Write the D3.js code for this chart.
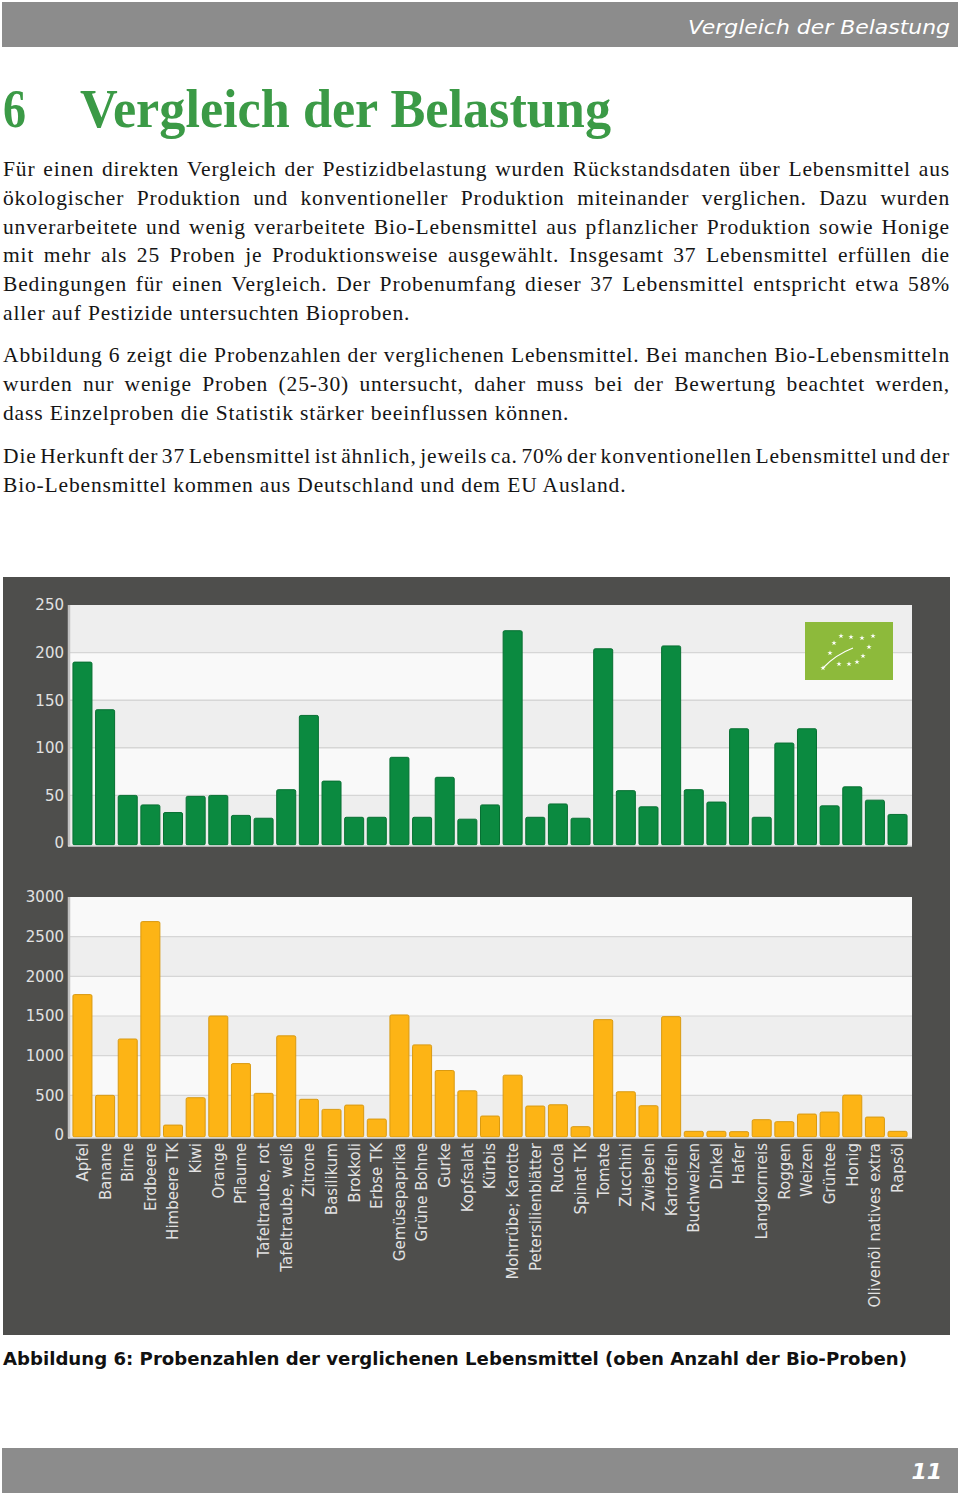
<!DOCTYPE html>
<html><head><meta charset="utf-8">
<script src="https://cdn.jsdelivr.net/npm/d3@7"></script>
<style>html,body{margin:0;padding:0;background:#fff;} svg{display:block;}</style>
</head><body>
<svg id="page" width="960" height="1495"></svg>
<script>
// ---------- data ----------
const categories = ["Apfel","Banane","Birne","Erdbeere","Himbeere TK","Kiwi","Orange","Pflaume","Tafeltraube, rot","Tafeltraube, weiß","Zitrone","Basilikum","Brokkoli","Erbse TK","Gemüsepaprika","Grüne Bohne","Gurke","Kopfsalat","Kürbis","Mohrrübe; Karotte","Petersilienblätter","Rucola","Spinat TK","Tomate","Zucchini","Zwiebeln","Kartoffeln","Buchweizen","Dinkel","Hafer","Langkornreis","Roggen","Weizen","Grüntee","Honig","Olivenöl natives extra","Rapsöl"];
const bioValues = [190,140,50,40,32,49,50,29,26,56,134,65,27,27,90,27,69,25,40,223,27,41,26,204,55,38,207,56,43,120,27,105,120,39,59,45,30];
const konvValues = [1770,500,1210,2690,125,470,1500,900,525,1250,450,323,377,201,1513,1136,813,557,239,754,365,381,105,1454,545,369,1492,46,46,42,193,168,264,289,503,226,46];
const bioTicks = [0,50,100,150,200,250];
const konvTicks = [0,500,1000,1500,2000,2500,3000];

const headerText = "Vergleich der Belastung";
const titleNumber = "6";
const titleText = "Vergleich der Belastung";
const paragraphs = [
  ["Für einen direkten Vergleich der Pestizidbelastung wurden Rückstandsdaten über Lebensmittel aus",
   "ökologischer Produktion und konventioneller Produktion miteinander verglichen. Dazu wurden",
   "unverarbeitete und wenig verarbeitete Bio-Lebensmittel aus pflanzlicher Produktion sowie Honige",
   "mit mehr als 25 Proben je Produktionsweise ausgewählt. Insgesamt 37 Lebensmittel erfüllen die",
   "Bedingungen für einen Vergleich. Der Probenumfang dieser 37 Lebensmittel entspricht etwa 58%",
   "aller auf Pestizide untersuchten Bioproben."],
  ["Abbildung 6 zeigt die Probenzahlen der verglichenen Lebensmittel. Bei manchen Bio-Lebensmitteln",
   "wurden nur wenige Proben (25-30) untersucht, daher muss bei der Bewertung beachtet werden,",
   "dass Einzelproben die Statistik stärker beeinflussen können."],
  ["Die Herkunft der 37 Lebensmittel ist ähnlich, jeweils ca. 70% der konventionellen Lebensmittel und der",
   "Bio-Lebensmittel kommen aus Deutschland und dem EU Ausland."]
];
const caption = "Abbildung 6: Probenzahlen der verglichenen Lebensmittel (oben Anzahl der Bio-Proben)";
const pageNumber = "11";

// ---------- page ----------
const svg = d3.select("#page");
svg.append("rect").attr("width",960).attr("height",1495).attr("fill","#fff");

// header
svg.append("rect").attr("x",2).attr("y",2).attr("width",956).attr("height",45).attr("fill","#8c8c8c");
svg.append("text").attr("x",688).attr("y",34)
  .attr("font-family","DejaVu Sans").attr("font-style","italic").attr("font-size",20)
  .attr("fill","#fff").attr("textLength",262).attr("lengthAdjust","spacingAndGlyphs")
  .text(headerText);

// title
const titleG = svg.append("g").attr("font-family","Liberation Serif").attr("font-weight","bold")
  .attr("font-size",54).attr("fill","#3b9a46");
titleG.append("text").attr("x",3).attr("y",127).attr("textLength",23).attr("lengthAdjust","spacingAndGlyphs").text(titleNumber);
titleG.append("text").attr("x",80).attr("y",127).attr("textLength",531).attr("lengthAdjust","spacingAndGlyphs").text(titleText);

// body text
const bodyG = svg.append("g").attr("font-family","Liberation Serif").attr("font-size",21.5)
  .attr("letter-spacing","0.85px").attr("fill","#151515");
function drawLine(g, text, x, y, width, justify) {
  if (!justify) { g.append("text").attr("x",x).attr("y",y).text(text); return; }
  const words = text.split(" ");
  const nodes = words.map(w => g.append("text").attr("y",y).text(w));
  const widths = nodes.map(t => t.node().getComputedTextLength());
  const sum = d3.sum(widths);
  const minGap = 3.5;
  let gap = (width - sum) / (words.length - 1);
  let k = 1;
  if (gap < minGap) { gap = minGap; k = width / (sum + minGap * (words.length - 1)); }
  let cx = 0;
  nodes.forEach((t, i) => {
    t.attr("x", x + cx * k);
    if (k < 1) t.attr("textLength", widths[i] * k).attr("lengthAdjust","spacingAndGlyphs");
    cx += widths[i] + gap;
  });
}
const paraStarts = [176, 362, 463];
const lineH = 28.8;
paragraphs.forEach((lines, pi) => {
  lines.forEach((ln, li) => {
    drawLine(bodyG, ln, 3, paraStarts[pi] + li * lineH, 947, li < lines.length - 1);
  });
});

// ---------- chart panel ----------
svg.append("rect").attr("x",3).attr("y",577).attr("width",947).attr("height",758).attr("fill","#4e4e4c");

const x = d3.scaleBand().domain(categories).range([70, 910]).paddingInner(0.16).paddingOuter(0.13);

function drawPanel(values, ticks, top, zeroY, fill, stroke) {
  const y = d3.scaleLinear().domain([0, d3.max(ticks)]).range([zeroY, top]);
  const g = svg.append("g");
  for (let i = 0; i < ticks.length - 1; i++) {
    g.append("rect").attr("x",68).attr("width",844)
      .attr("y", y(ticks[i+1])).attr("height", y(ticks[i]) - y(ticks[i+1]) + (i===0?3:0))
      .attr("fill", i % 2 === 0 ? "#eeeeee" : "#f9f9f9");
  }
  g.selectAll("line.grid").data(ticks.slice(1, -1)).join("line")
    .attr("x1",68).attr("x2",912).attr("y1",d=>y(d)).attr("y2",d=>y(d))
    .attr("stroke","#d6d6d6").attr("stroke-width",1.2);
  g.append("line").attr("x1",69).attr("x2",69).attr("y1",top).attr("y2",zeroY+3)
    .attr("stroke","#c2c2c2").attr("stroke-width",2.5);
  g.selectAll("rect.bar").data(values).join("rect").attr("class","bar")
    .attr("x",(d,i)=>x(categories[i])).attr("width",x.bandwidth())
    .attr("y",d=>y(d)).attr("height",d=>zeroY - y(d) + 2)
    .attr("rx",1.5).attr("fill",fill).attr("stroke",stroke).attr("stroke-width",1);
  g.append("line").attr("x1",68).attr("x2",912).attr("y1",zeroY+3).attr("y2",zeroY+3)
    .attr("stroke","#d8d8d8").attr("stroke-width",1.5);
  const ax = g.append("g").attr("transform","translate(64,0)")
    .call(d3.axisLeft(y).tickValues(ticks).tickFormat(d3.format("d")).tickSize(0).tickPadding(0));
  ax.select(".domain").remove();
  ax.selectAll("text").attr("font-family","DejaVu Sans").attr("font-size",15).attr("fill","#e2e2e2");
  return y;
}

drawPanel(bioValues, bioTicks, 605, 843, "#0b8a40", "#077032");
drawPanel(konvValues, konvTicks, 897, 1135, "#fdb415", "#d99a12");

// x axis labels (bottom panel)
const xAx = svg.append("g").attr("transform","translate(0,1138)")
  .call(d3.axisBottom(x).tickSize(0));
xAx.select(".domain").remove();
xAx.selectAll("text")
  .attr("transform","rotate(-90)").attr("x",-5).attr("y",0).attr("dy","0.36em")
  .style("text-anchor","end")
  .attr("font-family","DejaVu Sans").attr("font-size",15).attr("fill","#e2e2e2");

// EU organic logo
const logo = svg.append("g").attr("transform","translate(805,622)");
logo.append("rect").attr("width",88).attr("height",58).attr("fill","#8dba3b");
const starPos = [[36,14],[46,15],[57,16],[68,14],[64,25],[58,34],[52,40],[44,42],[34,42],[25,31],[29,21],[18,46]];
logo.selectAll("path.star").data(starPos).join("path")
  .attr("d", d3.symbol(d3.symbolStar).size(9))
  .attr("transform", d => `translate(${d[0]},${d[1]})`).attr("fill","#fff");
logo.append("path").attr("d","M18,46 Q30,33 48,26").attr("fill","none").attr("stroke","#fff").attr("stroke-width",1.2);

// caption
svg.append("text").attr("x",3).attr("y",1365)
  .attr("font-family","DejaVu Sans").attr("font-weight","bold").attr("font-size",17.5)
  .attr("fill","#111").attr("textLength",904).attr("lengthAdjust","spacingAndGlyphs")
  .text(caption);

// footer
svg.append("rect").attr("x",2).attr("y",1448).attr("width",956).attr("height",45).attr("fill","#8c8c8c");
svg.append("text").attr("x",942).attr("y",1479).attr("text-anchor","end")
  .attr("font-family","DejaVu Sans").attr("font-weight","bold").attr("font-style","italic")
  .attr("font-size",22).attr("fill","#fff").text(pageNumber);
</script>
</body></html>
